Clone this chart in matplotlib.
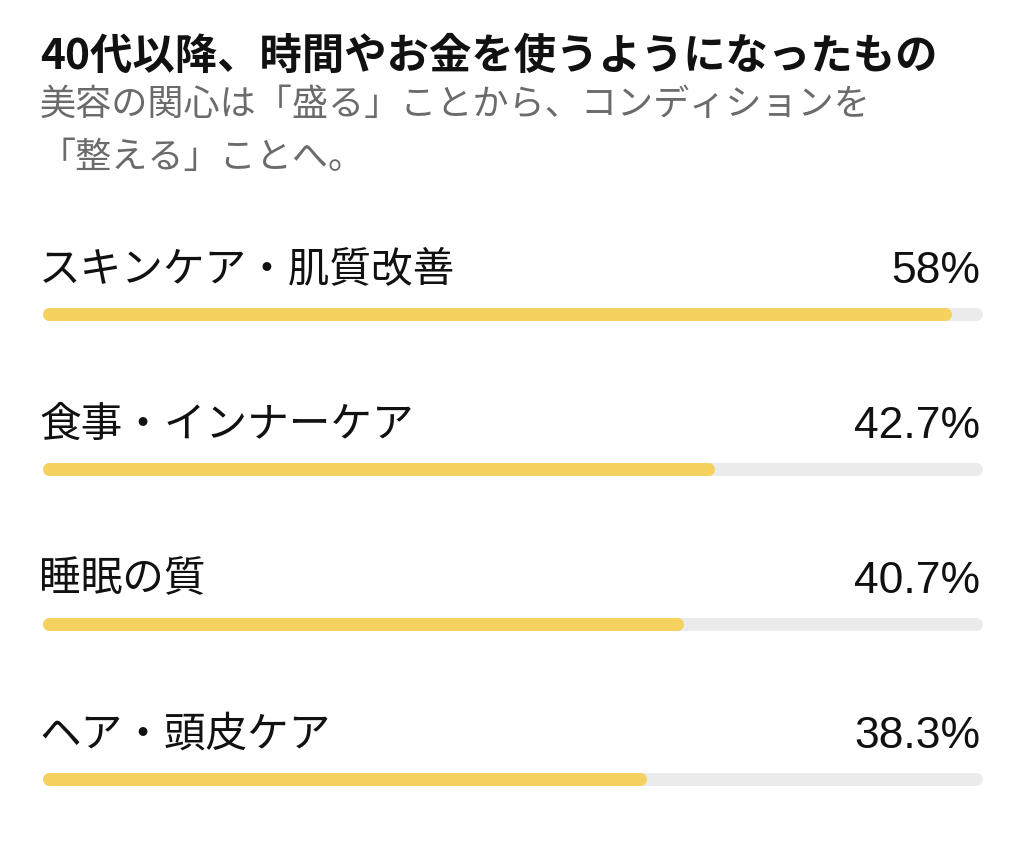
import matplotlib.pyplot as plt

plt.rcParams['font.family'] = ['Noto Sans CJK JP', 'DejaVu Sans']

title = "40代以降、時間やお金を使うようになったもの"
subtitle_lines = ["美容の関心は「盛る」ことから、コンディションを", "「整える」ことへ。"]
categories = ["スキンケア・肌質改善", "食事・インナーケア", "睡眠の質", "ヘア・頭皮ケア"]
values = [58, 42.7, 40.7, 38.3]
value_labels = ["58%", "42.7%", "40.7%", "38.3%"]
scale_max = 60

W, H = 1024, 851
fig = plt.figure(figsize=(W / 100, H / 100), dpi=100)
fig.patch.set_facecolor("white")

cap = 6.5  # half of bar thickness in px, round caps stick out by this
top_px, bot_px = 159, 841
ax = fig.add_axes([(42 + cap) / W, (H - bot_px) / H, (940 - 2 * cap) / W, (bot_px - top_px) / H])
ax.set_xlim(0, scale_max)
ax.set_ylim(3.4, -1.0)
ax.axis("off")

lw = 13 * 72 / 100
for i, (cat, v, lab) in enumerate(zip(categories, values, value_labels)):
    ax.plot([0, scale_max], [i, i], color="#EBEBEB", lw=lw, solid_capstyle="round", clip_on=False)
    ax.plot([0, v], [i, i], color="#F5D160", lw=lw, solid_capstyle="round", clip_on=False)
    ax.annotate(cat, (0, i), xytext=(-cap - 3, 44), textcoords="offset pixels",
                ha="left", va="center", fontsize=30, color="#111111")
    ax.annotate(lab, (scale_max, i), xytext=(cap - 2, 31), textcoords="offset pixels",
                ha="right", va="baseline", fontsize=32, color="#111111",
                family="Liberation Sans")

fig.text(40 / W, 1 - 57 / H, title, ha="left", va="center", fontsize=30.5,
         fontweight="bold", color="#111111")
for k, line in enumerate(subtitle_lines):
    fig.text(40 / W, 1 - (105 + 53 * k) / H, line, ha="left", va="center",
             fontsize=26, color="#6B6B6B")

fig.savefig("out.png", dpi=100, facecolor="white")
